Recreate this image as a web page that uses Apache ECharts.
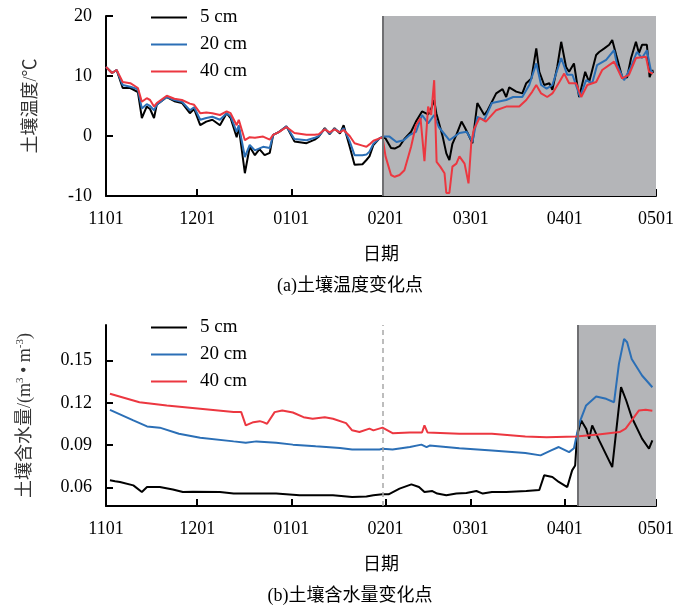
<!DOCTYPE html>
<html><head><meta charset="utf-8">
<script src="https://cdn.jsdelivr.net/npm/echarts@6/dist/echarts.min.js"></script>
<style>html,body{margin:0;padding:0;background:#fff}#c{width:700px;height:610px}</style>
</head><body><div id="c"></div>
<script>
// x = days since Nov 1
const tickDays = [0, 30, 61, 92, 120, 151, 181];
const tickLabels = ['1101', '1201', '0101', '0201', '0301', '0401', '0501'];
const seriesNames = ['5 cm', '20 cm', '40 cm'];
const tempTicks = [-10, 0, 10, 20];
const moistTicks = [0.06, 0.09, 0.12, 0.15];
const tempShade = [91, 181];
const moistShade = [155.3, 181];
const moistDashDay = 91;

const temp5 = [[0,11.5],[2,10.5],[3.5,11],[5.5,8.0],[8,8.0],[10.5,7.3],[11.8,3.0],[13.4,4.9],[14.5,4.5],[15.8,3.0],[16.7,5.2],[20,6.5],[22.5,5.8],[25,5.5],[27.6,3.8],[29,4.5],[31,1.8],[33,2.4],[35,2.7],[37.5,1.8],[39.7,3.8],[41,3.0],[43,-0.2],[43.7,1.5],[45.7,-6.2],[47.3,-1.8],[49,-3.2],[50.5,-2.2],[52.2,-3.2],[53.9,-2.8],[55,0.2],[57,0.7],[59.4,1.6],[62,-0.9],[66,-1.2],[68.7,-0.6],[70,-0.1],[72,1.3],[73.6,0.3],[75.2,1.3],[77,0.4],[78.2,1.8],[80.2,-1.8],[81.8,-4.8],[84.4,-4.7],[85.7,-4.0],[86.7,-3.4],[88,-1.5],[90,-0.4],[91,-0.2],[92,-0.4],[93.8,-2.0],[95,-2.1],[96.6,-1.7],[98.2,-0.5],[100.4,0.7],[102,2.4],[104,4.1],[106,3.6],[107,4.5],[108,6.0],[108.7,3.8],[110.8,-0.1],[112,-2.9],[113,-4.0],[114,-1.3],[115.3,0.2],[117,2.4],[118,1.5],[119,0.5],[120.6,-1.2],[122.2,5.5],[124.5,3.5],[125.6,4.3],[128.4,7.1],[130.5,7.8],[131.7,6.5],[132.7,8.1],[135,7.4],[137,7.1],[138.3,8.8],[140,9.6],[141.6,14.6],[142.6,10.7],[144.2,8.5],[145.9,8.8],[146.9,7.7],[148.5,11.5],[149.8,15.7],[151.4,11.5],[152.4,10.7],[154,12.1],[155.7,6.5],[157.7,10.7],[159,9.0],[161.3,13.5],[162.3,14],[164,14.6],[165.6,15.2],[166.6,16],[167.9,13.5],[170,9.6],[171.5,9.8],[172.8,13],[174.4,15.7],[175.4,13.8],[176.4,15.2],[178,15.2],[178.9,9.8],[179.8,11],[180,10.5]];
const temp20 = [[0,11.5],[2,10.5],[3.5,11],[5.5,8.5],[8,8.2],[10.5,7.8],[11.8,4.6],[13.4,5.3],[14.5,5.0],[15.8,4.3],[16.7,5.2],[20,6.5],[22.5,6.0],[25,5.7],[27.6,4.3],[29,4.8],[31,2.7],[33,3.0],[35,3.2],[37.5,2.7],[39.7,3.8],[41,3.3],[43,0.7],[43.7,1.8],[45.7,-3.5],[47.3,-1.5],[49,-2.4],[51.7,-1.8],[53.9,-2.0],[55,0.2],[57,0.7],[59.4,1.6],[62,-0.5],[66,-0.7],[68.7,-0.3],[70,0.0],[72,1.2],[73.6,0.4],[75.2,1.2],[77,0.6],[78.2,1.3],[80.2,-0.9],[81.8,-3.2],[84.4,-3.2],[85.7,-3.1],[86.7,-2.6],[88,-1.3],[90,-0.4],[91,-0.1],[93.3,-0.1],[95.6,-1.0],[98,-0.7],[100,0.2],[102,0.7],[104,3.5],[106,2.1],[108,3.5],[109.5,1.5],[113,-0.7],[116.3,0.5],[118.7,0.7],[120.6,-1.0],[122.2,3.2],[124.5,2.7],[127,5.5],[131.7,6.0],[134,6.5],[137,6.5],[139.3,8.5],[141.6,12.1],[143.2,8.5],[145,7.9],[146.9,8.5],[149.8,13],[151.8,10.2],[153.5,10.2],[156,6.5],[158,9.3],[160,8.8],[161.6,11.8],[164.6,12.7],[167.2,14.3],[168.2,11.8],[170.5,9.3],[173,11.8],[174.7,14],[176.4,13],[178,14.3],[179.4,10.7],[180,10.7]];
const temp40 = [[0,11.5],[2,10.5],[3.5,11],[5.5,9.0],[8,8.8],[10.5,8.0],[11.8,5.7],[13.4,6.3],[14.5,6.0],[15.8,4.9],[16.7,5.5],[20,6.7],[22.5,6.2],[25,6.0],[27.6,5.4],[29,5.2],[31,3.8],[33,3.9],[35,3.8],[37.5,3.5],[39.7,4.1],[41,3.8],[43,1.8],[43.7,2.7],[45.7,-0.7],[47.3,-0.2],[49,-0.3],[51.7,-0.1],[53.9,-0.6],[55,0.2],[57,0.7],[59.4,1.5],[62,0.5],[66,0.2],[68.7,0.2],[70,0.3],[72,1.1],[73.6,0.6],[75.2,1.1],[77,0.6],[78.2,1.0],[80.2,0.0],[81.8,-1.2],[84.4,-1.6],[85.7,-1.8],[86.7,-1.4],[88,-0.8],[90,-0.4],[91,-0.2],[92,-3.4],[93.8,-6.5],[95,-6.8],[96.6,-6.5],[98.2,-5.7],[100.4,-1.8],[102,1.8],[103.5,3.0],[104.8,-4.2],[106,4.9],[107,3.5],[108,9.3],[108.8,-4.3],[110,-5.1],[111.4,-6.2],[112,-9.5],[113,-9.5],[114,-5.1],[115.3,-4.6],[116.3,-3.4],[118,-4.6],[119.3,-7.9],[120.2,-1.2],[121,1.0],[122.9,3.0],[125,2.4],[128.4,4.3],[131.7,4.9],[136,4.9],[138.3,6.0],[140.3,7.4],[141.6,8.5],[143.2,7.1],[145.2,6.5],[146.9,7.1],[149.2,9.0],[150.8,10.4],[152.4,8.8],[154.7,8.8],[156.4,6.5],[158.4,8.5],[161.3,9.0],[163.3,11],[167.2,12.4],[169.8,9.6],[172.1,10.2],[174.4,13],[177.7,13.2],[178.7,10.7],[180,10.4]];

const moist5 = [[1.3,0.0652],[3,0.0645],[4.6,0.064],[9,0.0616],[11.8,0.0569],[13.5,0.0604],[17.7,0.0604],[22,0.0586],[25.3,0.0569],[28.6,0.057],[37.5,0.0569],[42,0.0558],[49,0.0558],[56,0.0558],[63.7,0.0546],[74.7,0.0546],[81,0.0534],[85.7,0.0537],[88,0.0546],[91,0.0553],[93,0.0553],[96.6,0.0593],[100.5,0.0623],[103,0.0604],[104.8,0.0569],[107.4,0.0576],[109,0.0558],[112,0.0546],[115.3,0.0558],[118.6,0.0562],[121.9,0.0576],[124,0.0558],[127,0.0569],[131.7,0.0569],[138.3,0.0576],[142.6,0.0583],[144.2,0.0687],[146.9,0.0675],[149,0.064],[151.8,0.0604],[153.4,0.0722],[154.4,0.0757],[155,0.0969],[156.4,0.1075],[158,0.1017],[159,0.0946],[160,0.104],[162.3,0.0934],[166.6,0.0745],[169.5,0.131],[171.2,0.1216],[173,0.1098],[176.4,0.0946],[178.7,0.0875],[179.8,0.0934]];
const moist20 = [[1.3,0.115],[9,0.1075],[13.5,0.1033],[17.7,0.1024],[24,0.0981],[31,0.0953],[42,0.0927],[46,0.0918],[49.5,0.0927],[56,0.0918],[61.5,0.0904],[69,0.0892],[77,0.088],[81,0.087],[90,0.087],[91,0.0875],[94.3,0.087],[100,0.0887],[103.8,0.0904],[105.5,0.0887],[106.5,0.0897],[116.3,0.0878],[127,0.0863],[138,0.0844],[143,0.0828],[146.5,0.0863],[149,0.0887],[152.4,0.0851],[154,0.0878],[155.7,0.1052],[158,0.1181],[161.3,0.1245],[164.6,0.1228],[167.2,0.1204],[168.8,0.1475],[170.5,0.1652],[171.5,0.1628],[173,0.151],[176.4,0.1393],[179.8,0.131]];
const moist40 = [[1.3,0.1264],[11,0.1204],[20,0.118],[31,0.1158],[42,0.1134],[44.5,0.1134],[46,0.104],[48.5,0.1063],[50.6,0.107],[51.7,0.1063],[53,0.1052],[55.5,0.1134],[58,0.1146],[61.5,0.1131],[65,0.1098],[68,0.1087],[72,0.1098],[74.7,0.1087],[79,0.1056],[81,0.1005],[83.4,0.0993],[86.7,0.1017],[88,0.1005],[91,0.1024],[94.3,0.0985],[100,0.099],[104,0.099],[104.8,0.104],[105.8,0.099],[116.3,0.0981],[127,0.0981],[138,0.0962],[145,0.0957],[154.7,0.0962],[162,0.0976],[169,0.0993],[171,0.1017],[173,0.1075],[175.4,0.1146],[177.6,0.115],[179.8,0.1143]];

const FONT = 'Liberation Serif, Noto Sans CJK SC, serif';
const COLORS = ['#000000', '#2b6fb6', '#ec3740'];
const SHADE = '#b4b5b8';

function xAxisCfg(gridIndex) {
  return {
    gridIndex, type: 'value', min: 0, max: 181,
    name: '日期', nameLocation: 'middle', nameGap: 50,
    nameTextStyle: { fontFamily: FONT, fontSize: 18, color: '#000' },
    axisLine: { onZero: false, lineStyle: { color: '#000', width: 2 } },
    axisTick: { inside: true, length: 7, lineStyle: { color: '#000', width: 2 }, customValues: tickDays },
    axisLabel: { customValues: tickDays, margin: 14, fontFamily: FONT, fontSize: 18, color: '#000',
      formatter: v => tickLabels[tickDays.indexOf(Math.round(v))] || '' },
    splitLine: { show: false }
  };
}

function lineSeries(name, data, i, xi, yi) {
  return { name, type: 'line', xAxisIndex: xi, yAxisIndex: yi, data, symbol: 'none',
    lineStyle: { color: COLORS[i], width: 2 }, itemStyle: { color: COLORS[i] }, z: 3, animation: false };
}

function legendCfg(top) {
  return { orient: 'vertical', left: 146, top, icon: 'rect', itemWidth: 36, itemHeight: 2, itemGap: 8,
    data: seriesNames.map((n, i) => ({ name: n, itemStyle: { color: COLORS[i] } })),
    textStyle: { fontFamily: FONT, fontSize: 19, lineHeight: 19, color: '#000', padding: [0, 0, 0, 8] } };
}

const chart = echarts.init(document.getElementById('c'), null, { renderer: 'canvas' });
chart.setOption({
  animation: false,
  backgroundColor: '#fff',
  grid: [
    { left: 106, top: 16, width: 550, height: 180 },
    { left: 106, top: 325, width: 550, height: 181 }
  ],
  legend: [legendCfg(3), legendCfg(313)],
  xAxis: [xAxisCfg(0), xAxisCfg(1)],
  yAxis: [
    { gridIndex: 0, type: 'value', min: -10, max: 20,
      name: '土壤温度/℃', nameLocation: 'middle', nameGap: 66,
      nameTextStyle: { fontFamily: FONT, fontSize: 18, color: '#333' },
      axisLine: { show: true, lineStyle: { color: '#000', width: 2 } },
      axisTick: { show: true, inside: true, length: 7, lineStyle: { color: '#000', width: 2 }, customValues: tempTicks },
      axisLabel: { customValues: tempTicks, margin: 14, fontFamily: FONT, fontSize: 18, color: '#000' },
      splitLine: { show: false } },
    { gridIndex: 1, type: 'value', min: 0.047, max: 0.175,
      name: '土壤含水量/(m{sup|3} • m{sup|-3})', nameLocation: 'middle', nameGap: 70,
      nameTextStyle: { fontFamily: FONT, fontSize: 18, color: '#333',
        rich: { sup: { fontFamily: FONT, fontSize: 11, color: '#333', verticalAlign: 'top', padding: [0, 0, 10, 0] } } },
      axisLine: { show: true, lineStyle: { color: '#000', width: 2 } },
      axisTick: { show: true, inside: true, length: 7, lineStyle: { color: '#000', width: 2 }, customValues: moistTicks },
      axisLabel: { customValues: moistTicks, margin: 14, fontFamily: FONT, fontSize: 18, color: '#000',
        formatter: v => v.toFixed(2) },
      splitLine: { show: false } }
  ],
  series: [
    { type: 'line', xAxisIndex: 0, yAxisIndex: 0, data: [], z: 1, silent: true,
      markArea: { silent: true, itemStyle: { color: SHADE }, data: [[{ xAxis: tempShade[0] }, { xAxis: tempShade[1] }]] },
      markLine: { silent: true, symbol: 'none', label: { show: false },
        lineStyle: { color: '#6f6f72', width: 2, type: 'solid' }, data: [{ xAxis: tempShade[0] }] } },
    lineSeries(seriesNames[0], temp5, 0, 0, 0),
    lineSeries(seriesNames[1], temp20, 1, 0, 0),
    lineSeries(seriesNames[2], temp40, 2, 0, 0),
    { type: 'line', xAxisIndex: 1, yAxisIndex: 1, data: [], z: 1, silent: true,
      markArea: { silent: true, itemStyle: { color: SHADE }, data: [[{ xAxis: moistShade[0] }, { xAxis: moistShade[1] }]] },
      markLine: { silent: true, symbol: 'none', label: { show: false }, data: [
        { xAxis: moistShade[0], lineStyle: { color: '#6f6f72', width: 2, type: 'solid' } },
        { xAxis: moistDashDay, lineStyle: { color: '#a8a8a8', width: 1.5, type: [5, 4] } }
      ] } },
    lineSeries(seriesNames[0], moist5, 0, 1, 1),
    lineSeries(seriesNames[1], moist20, 1, 1, 1),
    lineSeries(seriesNames[2], moist40, 2, 1, 1)
  ],
  graphic: [
    { type: 'text', left: 'center', top: 277, style: { text: '(a)土壤温度变化点', font: '18px ' + FONT, fill: '#000' } },
    { type: 'text', left: 'center', top: 587, style: { text: '(b)土壤含水量变化点', font: '18px ' + FONT, fill: '#000' } }
  ]
});
</script></body></html>
